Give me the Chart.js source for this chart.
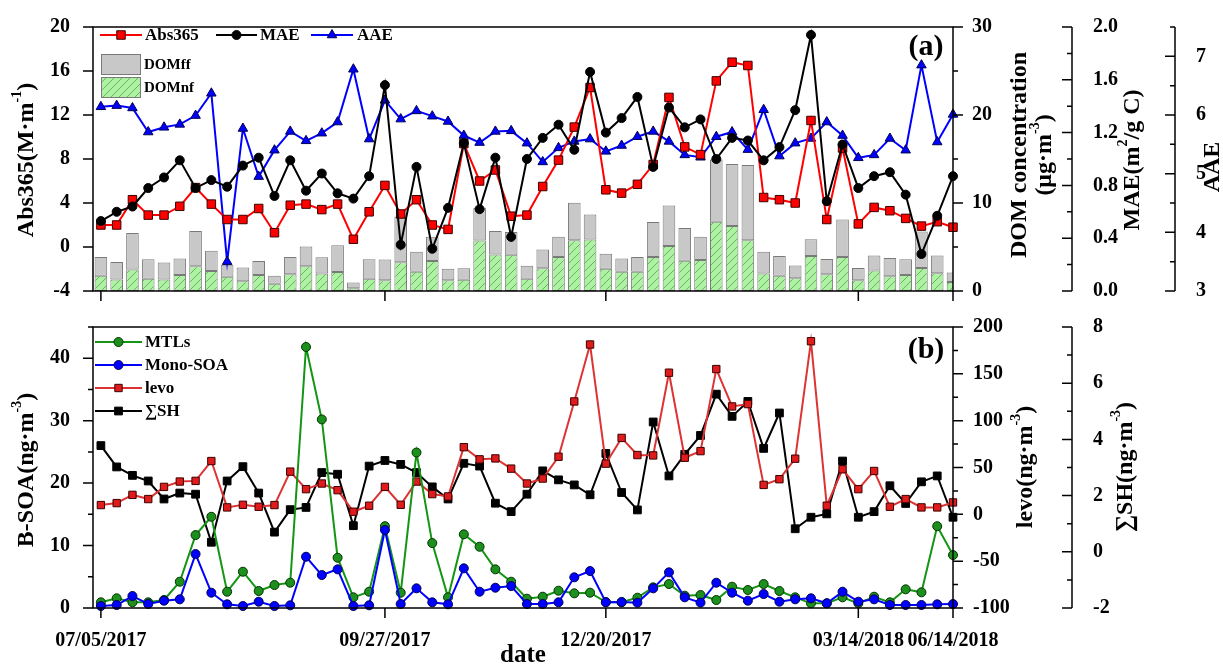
<!DOCTYPE html>
<html>
<head>
<meta charset="utf-8">
<script src="https://cdn.jsdelivr.net/npm/chart.js@4.4.1/dist/chart.umd.min.js"></script>
<style>
  html, body { margin: 0; padding: 0; background: #fff; }
  #wrap { position: relative; width: 1223px; height: 664px; overflow: hidden; background: #fff; }
  #panelA { position: absolute; left: 0; top: 0; }
  #panelB { position: absolute; left: 0; top: 300px; }
</style>
</head>
<body>
<div id="wrap">
  <canvas id="panelA" width="1223" height="318"></canvas>
  <canvas id="panelB" width="1223" height="364"></canvas>
</div>
<script>
// sample index of the labelled dates
var xTickIdx = [0, 18, 32, 48, 54];
var xTickLabels = ['07/05/2017', '09/27/2017', '12/20/2017', '03/14/2018', '06/14/2018'];

// panel (a)
var abs365 = [2.0, 2.0, 4.3, 2.9, 2.9, 3.7, 5.4, 3.9, 2.5, 2.5, 3.5, 1.3, 3.8, 3.9, 3.4, 3.9, 0.7, 3.2, 5.6, 3.0,
              4.3, 2.0, 1.6, 9.4, 6.0, 7.0, 2.8, 2.9, 5.5, 7.9, 10.9, 14.5, 5.2, 4.9, 5.7, 7.5, 13.6, 9.1, 8.4, 15.1,
              16.8, 16.5, 4.5, 4.3, 4.0, 11.5, 2.5, 9.0, 2.1, 3.6, 3.3, 2.6, 1.9, 2.3, 1.8];
var mae = [0.53, 0.60, 0.64, 0.78, 0.86, 0.99, 0.78, 0.84, 0.79, 0.95, 1.01, 0.72, 0.99, 0.76, 0.89, 0.74, 0.70, 0.87, 1.56, 0.35,
           0.94, 0.32, 0.63, 1.12, 0.62, 1.01, 0.41, 1.00, 1.16, 1.26, 1.07, 1.66, 1.20, 1.31, 1.47, 0.94, 1.39, 1.24, 1.30, 1.00,
           1.16, 1.14, 0.99, 1.09, 1.37, 1.94, 0.68, 1.11, 0.78, 0.87, 0.90, 0.73, 0.28, 0.57, 0.87];
var aae = [6.14, 6.16, 6.12, 5.71, 5.79, 5.84, 5.99, 6.37, 3.50, 5.77, 4.95, 5.40, 5.72, 5.56, 5.69, 5.88, 6.78, 5.59, 6.25, 5.93,
           6.07, 5.98, 5.89, 5.65, 5.53, 5.72, 5.73, 5.52, 5.20, 5.44, 5.55, 5.59, 5.38, 5.48, 5.63, 5.72, 5.55, 5.32, 5.28, 5.63,
           5.71, 5.41, 6.09, 5.30, 5.52, 5.60, 5.88, 5.65, 5.27, 5.32, 5.60, 5.40, 6.85, 5.54, 6.01];
var domNf = [1.74, 1.31, 2.45, 1.38, 1.31, 1.81, 2.80, 2.27, 1.63, 1.10, 1.81, 0.82, 1.91, 2.80, 1.99, 2.16, 0.32, 1.38, 1.21, 3.26,
             2.20, 3.40, 1.21, 1.28, 5.74, 4.15, 4.11, 1.38, 2.59, 3.87, 5.78, 5.85, 2.52, 2.20, 2.20, 3.87, 5.11, 3.44, 3.51, 7.87,
             7.38, 5.78, 1.99, 1.74, 1.45, 3.97, 1.91, 3.87, 1.21, 2.34, 1.67, 1.81, 2.62, 2.02, 1.03];
var domFf = [2.13, 1.99, 4.15, 2.24, 1.92, 1.88, 4.01, 2.30, 1.35, 1.56, 1.59, 0.92, 1.96, 2.27, 1.84, 3.05, 0.64, 2.24, 2.37, 5.22,
             2.27, 2.77, 1.31, 1.31, 3.73, 2.66, 2.59, 1.49, 2.13, 2.30, 4.26, 2.84, 1.70, 1.49, 1.67, 3.97, 4.61, 3.72, 2.66, 7.06,
             7.05, 8.55, 2.48, 2.23, 1.46, 1.92, 1.74, 4.25, 1.41, 1.70, 2.09, 1.81, 4.15, 2.02, 1.06];

// panel (b)
var mtls = [0.91, 1.55, 0.91, 0.91, 1.28, 4.21, 11.68, 14.61, 2.61, 5.81, 2.72, 3.68, 4.05, 41.8, 30.2, 8.05, 1.71, 2.61, 13.1, 2.45,
            24.9, 10.4, 1.71, 11.8, 9.81, 6.19, 4.21, 1.49, 1.81, 2.77, 2.35, 2.45, 0.96, 0.91, 1.65, 3.31, 3.84, 1.97, 2.08, 1.28,
            3.41, 2.88, 3.84, 2.72, 1.71, 0.75, 0.75, 1.71, 0.75, 1.81, 0.91, 2.99, 2.51, 13.1, 8.48];
var monoSoa = [0.32, 0.48, 1.92, 0.64, 1.17, 1.39, 8.64, 2.45, 0.59, 0.32, 1.01, 0.32, 0.43, 8.21, 5.28, 6.19, 0.32, 0.43, 12.5, 0.64,
               3.15, 0.91, 0.59, 6.35, 2.61, 3.25, 3.52, 0.64, 0.64, 0.91, 4.91, 5.92, 0.91, 0.96, 0.85, 3.15, 5.71, 1.71, 0.85, 4.05,
               2.45, 1.17, 2.24, 1.01, 1.39, 1.55, 0.75, 2.61, 1.01, 1.39, 0.48, 0.48, 0.48, 0.59, 0.64];
var levo = [9.9, 12.0, 20.8, 16.3, 29.3, 35.0, 35.7, 56.9, 7.4, 10.2, 8.1, 9.9, 45.6, 26.9, 32.9, 25.8, 2.8, 9.2, 29.3, 10.2,
            35.0, 21.6, 19.1, 71.7, 58.7, 59.7, 48.8, 32.9, 38.2, 61.5, 120.5, 181.3, 54.1, 81.6, 63.3, 62.9, 151.2, 60.4, 67.5, 155.1,
            115.2, 117.7, 31.4, 37.5, 59.4, 184.8, 9.2, 48.1, 26.9, 46.3, 8.1, 16.3, 7.4, 7.4, 12.7];
var sumSh = [3.78, 3.02, 2.72, 2.52, 1.88, 2.09, 2.05, 0.34, 2.52, 3.03, 2.09, 0.70, 1.50, 1.58, 2.82, 2.76, 0.93, 3.05, 3.25, 3.11,
             2.82, 2.31, 1.88, 3.15, 3.05, 1.73, 1.43, 2.05, 2.88, 2.56, 2.38, 2.03, 3.50, 2.11, 1.49, 4.62, 2.70, 3.47, 4.14, 5.61,
             4.82, 5.35, 3.68, 4.94, 0.82, 1.23, 1.35, 3.23, 1.23, 1.43, 2.35, 1.72, 2.49, 2.70, 1.23];

var SERIF = '"Liberation Serif", "Times New Roman", serif';
Chart.defaults.font.family = SERIF;
Chart.defaults.font.size = 20;
Chart.defaults.font.weight = 'bold';
Chart.defaults.color = '#000';

var sAbs = {line: '#ff0000', lw: 2, style: 'rect', r: 6, fill: '#ff0000', border: '#3a0000'};
var sMae = {line: '#000000', lw: 2, style: 'circle', r: 4.5, fill: '#000000', border: '#000000'};
var sAae = {line: '#0000ff', lw: 2, style: 'triangle', r: 5.5, fill: '#0000ff', border: '#000050'};
var sMtl = {line: '#149614', lw: 2, style: 'circle', r: 4.5, fill: '#1c8f1c', border: '#003300'};
var sMono = {line: '#0000ff', lw: 2, style: 'circle', r: 4.5, fill: '#0000ff', border: '#000050'};
var sLevo = {line: '#dd3333', lw: 2, style: 'rect', r: 5.2, fill: '#e01b1b', border: '#3a0000'};
var sSh = {line: '#000000', lw: 2, style: 'rect', r: 5.5, fill: '#000000', border: '#000000'};

function pts(arr) {
    return arr.map(function (v, i) { return {x: i, y: v}; });
}

function onStep(v, st) {
    var r = v / st;
    return Math.abs(r - Math.round(r)) < 1e-6;
}

function hatchPattern() {
    var c = document.createElement('canvas');
    c.width = 8; c.height = 8;
    var g = c.getContext('2d');
    g.fillStyle = '#adf2a2';
    g.fillRect(0, 0, 8, 8);
    g.strokeStyle = '#5e9c55';
    g.lineWidth = 0.8;
    g.beginPath();
    g.moveTo(0, 8); g.lineTo(8, 0);
    g.moveTo(-2, 2); g.lineTo(2, -2);
    g.moveTo(6, 10); g.lineTo(10, 6);
    g.stroke();
    return g.createPattern(c, 'repeat');
}
var hatch = hatchPattern();

function lineSet(label, data, axis, st, order) {
    return {
        type: 'line', label: label, data: pts(data), yAxisID: axis, order: order,
        borderColor: st.line, borderWidth: st.lw, tension: 0, clip: false,
        pointStyle: st.style, pointRadius: st.r, pointBackgroundColor: st.fill,
        pointBorderColor: st.border, pointBorderWidth: 1
    };
}

function marker(ctx, st, x, y) {
    ctx.fillStyle = st.fill;
    ctx.strokeStyle = st.border;
    ctx.lineWidth = 1;
    Chart.helpers.drawPoint(ctx, {pointStyle: st.style, radius: st.r, rotation: 0, borderWidth: 1}, x, y);
}

function legendLine(ctx, st, text, x0, x1, tx, y, size) {
    ctx.save();
    ctx.strokeStyle = st.line;
    ctx.lineWidth = st.lw;
    ctx.beginPath(); ctx.moveTo(x0, y); ctx.lineTo(x1, y); ctx.stroke();
    marker(ctx, st, (x0 + x1) / 2, y);
    ctx.fillStyle = '#000';
    ctx.font = 'bold ' + size + 'px ' + SERIF;
    ctx.textAlign = 'left';
    ctx.textBaseline = 'middle';
    ctx.fillText(text, tx, y + 1);
    ctx.restore();
}

// rotated (reading upwards) title with optional superscripts
function vText(ctx, parts, cx, cy, size) {
    ctx.save();
    ctx.translate(cx, cy);
    ctx.rotate(-Math.PI / 2);
    ctx.fillStyle = '#000';
    ctx.textAlign = 'left';
    ctx.textBaseline = 'middle';
    var fnt = function (p) { return 'bold ' + (p[1] ? Math.round(size * 0.6) : size) + 'px ' + SERIF; };
    var w = 0;
    parts.forEach(function (p) { ctx.font = fnt(p); w += ctx.measureText(p[0]).width; });
    var x = -w / 2;
    parts.forEach(function (p) {
        ctx.font = fnt(p);
        ctx.fillText(p[0], x, p[1] ? -size * 0.38 : 0);
        x += ctx.measureText(p[0]).width;
    });
    ctx.restore();
}

function panelDeco(axes, extra) {
    return {
        id: 'panelDeco',
        afterDraw: function (chart) {
            var ctx = chart.ctx, a = chart.chartArea;
            ctx.save();
            ctx.strokeStyle = '#000';
            ctx.lineWidth = 1.5;
            ctx.strokeRect(a.left, a.top, a.right - a.left, a.bottom - a.top);
            axes.forEach(function (sp) {
                var s = chart.scales[sp.id];
                ctx.beginPath();
                if (s.isHorizontal()) {
                    s.ticks.forEach(function (t) {
                        var px = s.getPixelForValue(t.value);
                        ctx.moveTo(px, s.top); ctx.lineTo(px, s.top + 10);
                    });
                } else {
                    var x0 = s.position === 'left' ? s.right : s.left;
                    if (sp.line) { ctx.moveTo(x0, s.top); ctx.lineTo(x0, s.bottom); }
                    s.ticks.forEach(function (t) {
                        if (!onStep(t.value, sp.minor)) return;
                        var len = onStep(t.value, sp.major) ? 10 : 5;
                        var py = s.getPixelForValue(t.value);
                        ctx.moveTo(x0, py); ctx.lineTo(x0 + sp.dir * len, py);
                    });
                }
                ctx.stroke();
            });
            ctx.restore();
            extra(ctx, chart);
        }
    };
}

function xAxis(showLabels, height) {
    return {
        type: 'linear', min: -0.5, max: 54, offset: false,
        grid: {display: false}, border: {display: false},
        ticks: {
            display: showLabels, autoSkip: false, maxRotation: 0, minRotation: 0, padding: 13,
            font: {size: 20, weight: 'bold'},
            callback: function (v) {
                var k = xTickIdx.indexOf(v);
                return k >= 0 ? xTickLabels[k] : '';
            }
        },
        title: {display: showLabels, text: 'date', font: {size: 25, weight: 'bold', lineHeight: 0.65}, padding: 0},
        afterBuildTicks: function (s) { s.ticks = xTickIdx.map(function (v) { return {value: v}; }); },
        afterFit: function (s) { s.height = height; }
    };
}

function yAxis(pos, weight, min, max, step, major, pad, width, fmt) {
    return {
        position: pos, weight: weight, min: min, max: max,
        grid: {display: false}, border: {display: false},
        ticks: {
            stepSize: step, padding: pad, autoSkip: false,
            callback: function (v) { return onStep(v, major) ? fmt(v) : ''; }
        },
        afterFit: function (s) { s.width = width; }
    };
}

var intFmt = function (v) { return String(Math.round(v)); };

// ---------- panel (a) ----------
new Chart(document.getElementById('panelA'), {
    type: 'line',
    data: {
        datasets: [
            lineSet('MAE', mae, 'mae', sMae, 1),
            lineSet('Abs365', abs365, 'abs', sAbs, 2),
            lineSet('AAE', aae, 'aae', sAae, 3),
            {type: 'bar', label: 'DOMnf', data: pts(domNf), yAxisID: 'dom', stack: 'dom', order: 10,
             backgroundColor: hatch, borderColor: '#7a7a7a', borderWidth: 1, borderSkipped: false,
             barPercentage: 0.8, categoryPercentage: 1},
            {type: 'bar', label: 'DOMff', data: pts(domFf), yAxisID: 'dom', stack: 'dom', order: 11,
             backgroundColor: '#c8c8c8', borderColor: '#7a7a7a', borderWidth: 1, borderSkipped: false,
             barPercentage: 0.8, categoryPercentage: 1}
        ]
    },
    options: {
        responsive: false, animation: false, devicePixelRatio: 1,
        layout: {padding: {top: 22, left: 0, right: 0, bottom: 0}},
        plugins: {legend: {display: false}, tooltip: {enabled: false}},
        scales: {
            x: xAxis(false, 14),
            abs: yAxis('left', 0, -4, 20, 4, 4, 15, 93, intFmt),
            dom: yAxis('right', 1, 0, 30, 5, 10, 11, 119, intFmt),
            mae: yAxis('right', 2, 0, 2, 0.2, 0.4, 13, 103, function (v) { return v.toFixed(1); }),
            aae: yAxis('right', 3, 3, 7.5, 0.5, 1, 13, 48, intFmt)
        }
    },
    plugins: [panelDeco([
        {id: 'x'},
        {id: 'abs', minor: 4, major: 4, dir: -1},
        {id: 'dom', minor: 5, major: 10, dir: 1},
        {id: 'mae', minor: 0.2, major: 0.4, dir: -1, line: true},
        {id: 'aae', minor: 0.5, major: 1, dir: -1, line: true}
    ], function (ctx) {
        legendLine(ctx, sAbs, 'Abs365', 100, 142, 145, 35, 17);
        legendLine(ctx, sMae, 'MAE', 216, 257, 260, 35, 17);
        legendLine(ctx, sAae, 'AAE', 311, 353, 357, 35, 17);
        ctx.save();
        ctx.lineWidth = 1;
        ctx.strokeStyle = '#7a7a7a';
        ctx.fillStyle = '#c8c8c8';
        ctx.fillRect(101, 54, 39, 20); ctx.strokeRect(101.5, 54.5, 39, 20);
        ctx.fillStyle = hatch;
        ctx.fillRect(101, 77, 39, 20); ctx.strokeRect(101.5, 77.5, 39, 20);
        ctx.fillStyle = '#000';
        ctx.font = 'bold 15px ' + SERIF;
        ctx.textBaseline = 'middle';
        ctx.fillText('DOMff', 144, 65);
        ctx.fillText('DOMnf', 144, 88);
        ctx.font = 'bold 30px ' + SERIF;
        ctx.textAlign = 'center';
        ctx.fillText('(a)', 926, 47);
        ctx.restore();
        vText(ctx, [['Abs365(M·m'], ['-1', true], [')']], 27, 160, 24);
        vText(ctx, [['DOM concentration']], 1020, 155, 24);
        vText(ctx, [['(μg·m'], ['-3', true], [')']], 1045, 155, 24);
        vText(ctx, [['MAE(m'], ['2', true], ['/g C)']], 1133, 160, 24);
        vText(ctx, [['AAE']], 1213, 167, 24);
    })]
});

// ---------- panel (b) ----------
new Chart(document.getElementById('panelB'), {
    type: 'line',
    data: {
        datasets: [
            lineSet('Mono-SOA', monoSoa, 'bsoa', sMono, 1),
            lineSet('MTLs', mtls, 'bsoa', sMtl, 2),
            lineSet('levo', levo, 'levo', sLevo, 3),
            lineSet('∑SH', sumSh, 'sh', sSh, 4)
        ]
    },
    options: {
        responsive: false, animation: false, devicePixelRatio: 1,
        layout: {padding: {top: 26, left: 0, right: 0, bottom: 0}},
        plugins: {legend: {display: false}, tooltip: {enabled: false}},
        scales: {
            x: xAxis(true, 56),
            bsoa: yAxis('left', 0, 0, 45, 5, 10, 15, 93, intFmt),
            levo: yAxis('right', 1, -100, 200, 25, 50, 12, 119, intFmt),
            sh: yAxis('right', 2, -2, 8, 1, 2, 13, 151, intFmt)
        }
    },
    plugins: [panelDeco([
        {id: 'x'},
        {id: 'bsoa', minor: 5, major: 10, dir: -1},
        {id: 'levo', minor: 25, major: 50, dir: 1},
        {id: 'sh', minor: 1, major: 2, dir: -1, line: true}
    ], function (ctx) {
        legendLine(ctx, sMtl, 'MTLs', 95, 142, 145, 42, 17);
        legendLine(ctx, sMono, 'Mono-SOA', 95, 142, 145, 65, 17);
        legendLine(ctx, sLevo, 'levo', 95, 142, 145, 88, 17);
        legendLine(ctx, sSh, '∑SH', 95, 142, 145, 111, 17);
        ctx.save();
        ctx.fillStyle = '#000';
        ctx.font = 'bold 30px ' + SERIF;
        ctx.textAlign = 'center';
        ctx.textBaseline = 'middle';
        ctx.fillText('(b)', 926, 50);
        ctx.restore();
        vText(ctx, [['B-SOA(ng·m'], ['-3', true], [')']], 27, 170, 24);
        vText(ctx, [['levo(ng·m'], ['-3', true], [')']], 1026, 167, 24);
        vText(ctx, [['∑SH(ng·m'], ['-3', true], [')']], 1126, 167, 24);
    })]
});
</script>
</body>
</html>
